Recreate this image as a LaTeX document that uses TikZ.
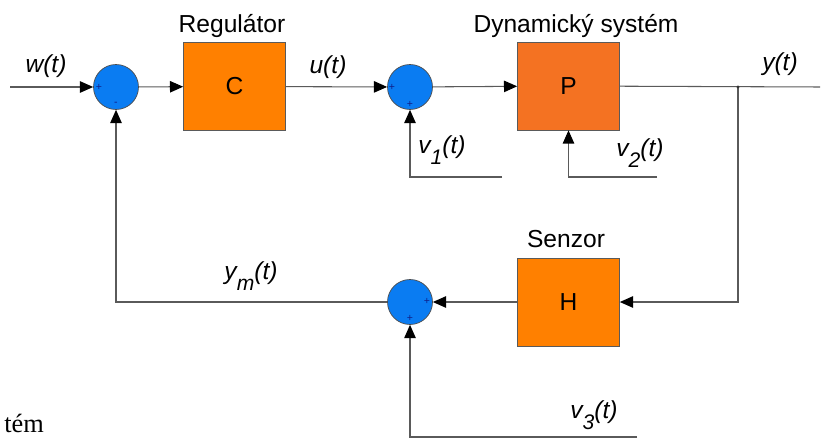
\documentclass[tikz,border=0pt]{standalone}
\usepackage{fontspec}
\setmainfont{Liberation Sans}
\newfontfamily\capfont{Liberation Serif}
\usepackage{xcolor}
\usetikzlibrary{arrows.meta}

\definecolor{sumblue}{HTML}{0A7CF2}
\definecolor{regorange}{HTML}{FF8000}
\definecolor{sysorange}{HTML}{F47222}
\definecolor{wiregray}{HTML}{5A5A5A}
\definecolor{signblue}{HTML}{10208A}

\newcommand{\sig}[2]{\textit{#1\raisebox{-0.8ex}{\fontsize{12}{12}\selectfont #2}(t)}}

\begin{document}
\begin{tikzpicture}[x=0.02cm, y=-0.02cm,
  every node/.style={font=\fontsize{14}{17}\selectfont},
  block/.style={draw=wiregray, fill=regorange, inner sep=0pt, minimum width=2.04cm, minimum height=1.76cm},
  sumnode/.style={draw=black!70, fill=sumblue, circle, inner sep=0pt, minimum size=0.9cm},
  wire/.style={draw=wiregray, line width=0.6pt},
  feed/.style={-{Triangle[length=7.5pt, width=6.5pt, color=black, fill=black]}},
  sign/.style={font=\fontsize{6}{6}\selectfont, text=signblue, inner sep=0pt}]
  \useasboundingbox (0,0) rectangle (828,439);

  % blocks and summing points
  \node[sumnode] (sumw) at (116,87) {};
  \node[block] (reg) at (234.5,86.5) {C};
  \node[sumnode] (sumu) at (410,87) {};
  \node[block, fill=sysorange] (sys) at (568.5,86) {P};
  \node[block] (sen) at (568.5,302) {H};
  \node[sumnode] (summ) at (410,302) {};

  % signs
  \node[sign] (sw1) at (99,87) {+};
  \node[sign] (sw2) at (116,104) {-};
  \node[sign] (su1) at (392,87) {+};
  \node[sign] (su2) at (410,104) {+};
  \node[sign] (sm1) at (427,301) {+};
  \node[sign] (sm2) at (410,318) {+};

  % free ends
  \coordinate (win) at (10,87);
  \coordinate (yout) at (820,87);
  \coordinate (branch) at (738,87);
  \coordinate (v1end) at (502,177);
  \coordinate (v2end) at (657,177);
  \coordinate (v3end) at (637,437);

  % connections
  \draw[wire, feed] (win) -- (sumw);
  \draw[wire, feed] (sumw) -- (reg);
  \draw[wire, feed] (reg) -- (sumu);
  \draw[wire, feed] (sumu) -- (sys);
  \draw[wire] (sys) -- (yout);
  \draw[wire, feed] (branch) |- (sen);
  \draw[wire, feed] (sen) -- (summ);
  \draw[wire, feed] (summ) -| (sumw);
  \draw[wire, feed] (v1end) -| (sumu);
  \draw[wire, feed] (v2end) -| (sys.south);
  \draw[wire, feed] (v3end) -| (summ);
  \fill[black!80] (branch) circle (1.6);

  % labels
  \node[anchor=base] (lreg) at (232,33) {Regulátor};
  \node[anchor=base] (lsys) at (576,33) {Dynamický systém};
  \node[anchor=base] (lsen) at (566,247) {Senzor};
  \node (lw) at (46,66) {\textit{w(t)}};
  \node (lu) at (328,67) {\textit{u(t)}};
  \node (ly) at (780,64) {\textit{y(t)}};
  \node (lv1) at (442,150) {\sig{v}{1}};
  \node (lv2) at (640,153) {\sig{v}{2}};
  \node (lv3) at (594,415) {\sig{v}{3}};
  \node (lym) at (251,276) {\sig{y}{m}};
  \node[anchor=base west, font=\capfont\fontsize{15}{18}\selectfont, inner sep=0pt] (cap) at (4,432) {tém};
\end{tikzpicture}
\end{document}
